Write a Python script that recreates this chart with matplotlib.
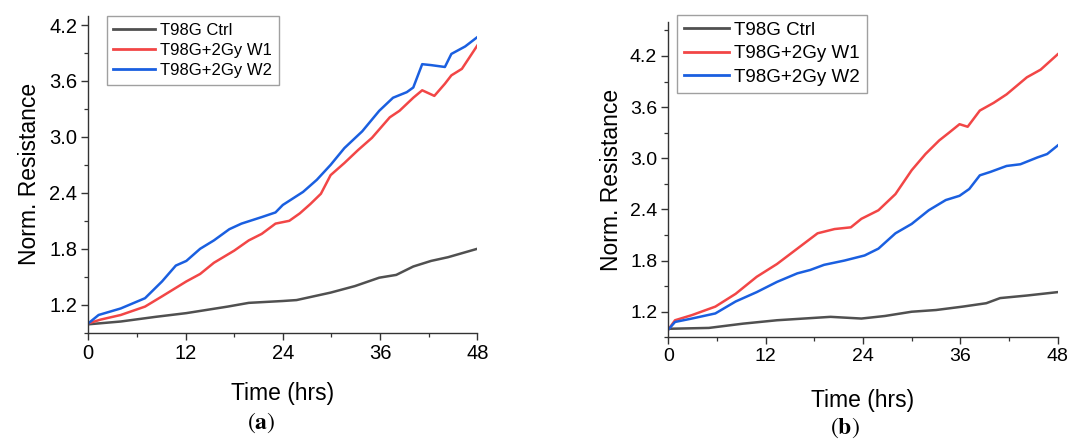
import matplotlib
matplotlib.use("Agg")
import matplotlib.pyplot as plt
from matplotlib.ticker import MultipleLocator

plt.rcParams['font.family'] = ['Liberation Sans', 'DejaVu Sans']
plt.rcParams['mathtext.fontset'] = 'stix'

labels = ["T98G Ctrl", "T98G+2Gy W1", "T98G+2Gy W2"]
colors = ["#505050", "#f24646", "#1a5fe0"]

# Panel (a)
a_ctrl_t = [0, 4, 8.3, 12.1, 17.2, 19.8, 24, 25.7, 29.9, 32.9, 35.9, 38, 40.1, 42.3, 44.4, 48]
a_ctrl_v = [0.99, 1.02, 1.07, 1.11, 1.18, 1.22, 1.24, 1.25, 1.33, 1.40, 1.49, 1.52, 1.61, 1.67, 1.71, 1.80]
a_w1_t = [0, 1.5, 4, 7, 9.1, 12.1, 13.8, 15.5, 18, 19.8, 21.4, 23.1, 24.8, 26.1, 27.4, 28.7, 29.9,
          31.6, 33.3, 35, 37.2, 38.4, 40.1, 41.2, 42.7, 44, 44.8, 46.1, 48]
a_w1_v = [1.0, 1.04, 1.09, 1.18, 1.29, 1.45, 1.53, 1.65, 1.78, 1.89, 1.96, 2.07, 2.10, 2.18, 2.28, 2.39, 2.59,
          2.72, 2.86, 2.99, 3.21, 3.28, 3.42, 3.50, 3.44, 3.57, 3.66, 3.73, 3.98]
a_w2_t = [0, 1.27, 4, 7, 9.1, 10.8, 12.1, 13.8, 15.5, 17.4, 18.9, 21.4, 23.1, 24, 26.5, 28.2, 29.9,
          31.6, 33.8, 35.9, 37.6, 39.3, 40.1, 41.2, 42.3, 44, 44.8, 46.5, 48]
a_w2_v = [1.0, 1.09, 1.16, 1.27, 1.45, 1.62, 1.67, 1.80, 1.89, 2.01, 2.07, 2.14, 2.19, 2.27, 2.41, 2.54, 2.70,
          2.88, 3.06, 3.28, 3.42, 3.48, 3.53, 3.78, 3.77, 3.75, 3.89, 3.97, 4.07]

# Panel (b)
b_ctrl_t = [0, 5, 9.2, 13.4, 20, 23.8, 26.7, 30, 33, 36.3, 39.2, 40.9, 44.2, 48]
b_ctrl_v = [1.0, 1.01, 1.06, 1.10, 1.14, 1.12, 1.15, 1.20, 1.22, 1.26, 1.30, 1.36, 1.39, 1.43]
b_w1_t = [0, 0.83, 2.9, 5.8, 8.3, 10.9, 13.4, 15.9, 18.4, 20.5, 22.5, 23.8, 25.9, 28, 30, 31.7,
          33.4, 34.6, 35.9, 36.9, 38.4, 40.1, 41.7, 44.2, 45.9, 48]
b_w1_v = [0.99, 1.10, 1.16, 1.26, 1.41, 1.61, 1.76, 1.94, 2.12, 2.17, 2.19, 2.29, 2.39, 2.58, 2.86, 3.05,
          3.21, 3.30, 3.40, 3.37, 3.56, 3.65, 3.75, 3.95, 4.04, 4.22]
b_w2_t = [0, 0.83, 2.9, 5.8, 8.3, 10.9, 13.4, 15.9, 17.5, 19.2, 21.7, 24.2, 25.9, 28, 30, 32.1,
          34.2, 35.9, 37.1, 38.4, 39.7, 41.7, 43.4, 45.5, 46.7, 48]
b_w2_v = [0.99, 1.08, 1.12, 1.18, 1.32, 1.43, 1.55, 1.65, 1.69, 1.75, 1.80, 1.86, 1.94, 2.12, 2.23, 2.39,
          2.51, 2.56, 2.64, 2.80, 2.84, 2.91, 2.93, 3.01, 3.05, 3.15]

x_ticks = [0, 12, 24, 36, 48]
y_ticks_a = [1.2, 1.8, 2.4, 3.0, 3.6, 4.2]
y_ticks_b = [1.2, 1.8, 2.4, 3.0, 3.6, 4.2]

W, H = 1071, 440
fig = plt.figure(figsize=(W / 100, H / 100), dpi=100)


def make_axes(rect, series, yticks, ylim, tick_fs, label_fs, leg_fs, leg_box, handlelength,
              xlabelpad, ylabelpad, labelspacing, borderpad):
    ax = fig.add_axes(rect)
    for (t, v), lab, c in zip(series, labels, colors):
        ax.plot(t, v, color=c, lw=1.8, label=lab)
    ax.set_xlim(0, 48)
    ax.set_ylim(*ylim)
    ax.set_xticks(x_ticks)
    ax.set_yticks(yticks)
    ax.set_yticklabels([f"{y:.1f}" for y in yticks])
    ax.xaxis.set_minor_locator(MultipleLocator(6))
    ax.yaxis.set_minor_locator(MultipleLocator(0.3))
    ax.spines['top'].set_visible(False)
    ax.spines['right'].set_visible(False)
    for s in ('left', 'bottom'):
        ax.spines[s].set_linewidth(1.0)
        ax.spines[s].set_color('#333333')
    ax.tick_params(which='major', direction='out', length=5, width=1.0, labelsize=tick_fs,
                   colors='#333333', labelcolor='black', pad=3)
    ax.tick_params(which='minor', direction='out', length=3, width=0.9, colors='#333333')
    ax.set_xlabel("Time (hrs)", fontsize=label_fs, labelpad=xlabelpad)
    ax.set_ylabel("Norm. Resistance", fontsize=label_fs, labelpad=ylabelpad)
    leg = ax.legend(loc='upper left', bbox_to_anchor=leg_box, bbox_transform=fig.transFigure,
                    fontsize=leg_fs, frameon=True, fancybox=False, edgecolor='#888888',
                    handlelength=handlelength, handletextpad=0.3, borderpad=borderpad,
                    labelspacing=labelspacing, borderaxespad=0)
    leg.get_frame().set_linewidth(1.0)
    for line in leg.get_lines():
        line.set_linewidth(2.0)
    return ax


# panel a
ax_a = make_axes([88.3 / W, 1 - 332.7 / H, 389 / W, 317 / H],
                 [(a_ctrl_t, a_ctrl_v), (a_w1_t, a_w1_v), (a_w2_t, a_w2_v)],
                 y_ticks_a, (0.9, 4.3), 14.5, 16.5, 12, (106.5 / W, 1 - 16 / H), 2.5,
                 14, 6, 0.32, 0.4)
# panel b
ax_b = make_axes([668.3 / W, 1 - 337.3 / H, 389.4 / W, 315.4 / H],
                 [(b_ctrl_t, b_ctrl_v), (b_w1_t, b_w1_v), (b_w2_t, b_w2_v)],
                 y_ticks_b, (0.9, 4.6), 14, 16.5, 13.5, (677.3 / W, 1 - 15 / H), 2.4,
                 17, 5, 0.35, 0.35)

fig.text(261 / W, 1 - 423 / H, r"$(\mathbf{a})$", ha='center', va='center', fontsize=17)
fig.text(845 / W, 1 - 428 / H, r"$(\mathbf{b})$", ha='center', va='center', fontsize=17)

fig.savefig("out.png", dpi=100)
